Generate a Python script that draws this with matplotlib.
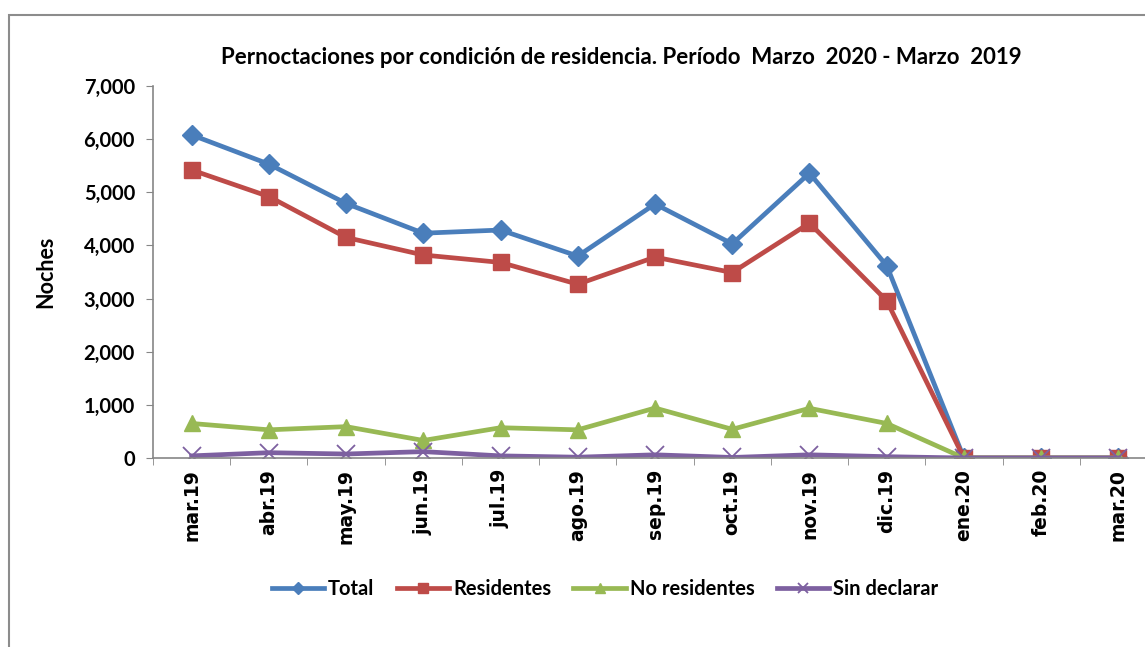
import matplotlib
matplotlib.use("Agg")
from matplotlib import pyplot as plt
from matplotlib.patches import Rectangle
from matplotlib.ticker import FuncFormatter

meses = ['mar.19', 'abr.19', 'may.19', 'jun.19', 'jul.19', 'ago.19', 'sep.19',
         'oct.19', 'nov.19', 'dic.19', 'ene.20', 'feb.20', 'mar.20']
total = [6080, 5530, 4790, 4230, 4290, 3800, 4780, 4030, 5360, 3620, 0, 0, 0]
residentes = [5420, 4920, 4150, 3820, 3680, 3270, 3780, 3490, 4420, 2960, 0, 0, 0]
no_residentes = [650, 530, 590, 330, 570, 530, 940, 540, 935, 650, 0, 0, 0]
sin_declarar = [40, 100, 75, 120, 40, 15, 60, 10, 60, 25, 0, 0, 0]

plt.rcParams['font.family'] = ['Lato', 'DejaVu Sans']
plt.rcParams['font.weight'] = 'bold'

fig = plt.figure(figsize=(11.45, 6.47), dpi=100)
# marco exterior del grafico
fig.patches.append(Rectangle((9/1145, -0.1), 1.2, (647-15)/647 + 0.1,
                             transform=fig.transFigure, fill=False,
                             edgecolor='#8c8c8c', linewidth=1.5))

ax = fig.add_axes([153/1145, (647-458)/647, 1004/1145, (458-86)/647])
x = list(range(len(meses)))

ax.plot(x, total, color='#4A7EBB', lw=3.4, marker='D', ms=10, label='Total')
ax.plot(x, residentes, color='#BE4B48', lw=3.4, marker='s', ms=12, label='Residentes')
ax.plot(x, no_residentes, color='#98B954', lw=3.4, marker='^', ms=12, label='No residentes')
ax.plot(x, sin_declarar, color='#7D60A0', lw=3.4, marker='x', ms=13, mew=1.3,
        label='Sin declarar')

ax.set_xlim(-0.5, len(meses) - 0.5)
ax.set_ylim(0, 7000)
ax.set_yticks(range(0, 7001, 1000))
ax.yaxis.set_major_formatter(FuncFormatter(lambda v, p: f'{int(v):,}'))
ax.set_xticks(x)
ax.set_xticklabels(meses, rotation=90, fontsize=13.5, fontweight='bold',
                   family=['DejaVu Sans'])
ax.set_xticks([i - 0.5 for i in range(len(meses) + 1)], minor=True)
ax.tick_params(axis='x', which='major', length=0, pad=8)
ax.tick_params(axis='x', which='minor', length=5, color='#868686')
ax.tick_params(axis='y', length=5, color='#868686', labelsize=14.5, pad=8)
for lab in ax.get_yticklabels():
    lab.set_fontweight('bold')

for s in ['top', 'right']:
    ax.spines[s].set_visible(False)
for s in ['left', 'bottom']:
    ax.spines[s].set_color('#868686')
    ax.spines[s].set_linewidth(1.2)

ax.set_ylabel('Noches', fontsize=15.5, fontweight='bold', labelpad=20)
fig.text(621/1145, 1 - 57/647, 'Pernoctaciones por condición de residencia. Período  Marzo  2020 - Marzo  2019',
         ha='center', va='center', fontsize=16, fontweight='bold')

fig.legend(loc='center', bbox_to_anchor=(605/1145, 1 - 589/647), ncol=4,
           frameon=False, fontsize=14.5, handlelength=2.6, handletextpad=0.2,
           columnspacing=1.1, markerscale=0.6)

fig.savefig('out.png', dpi=100)
